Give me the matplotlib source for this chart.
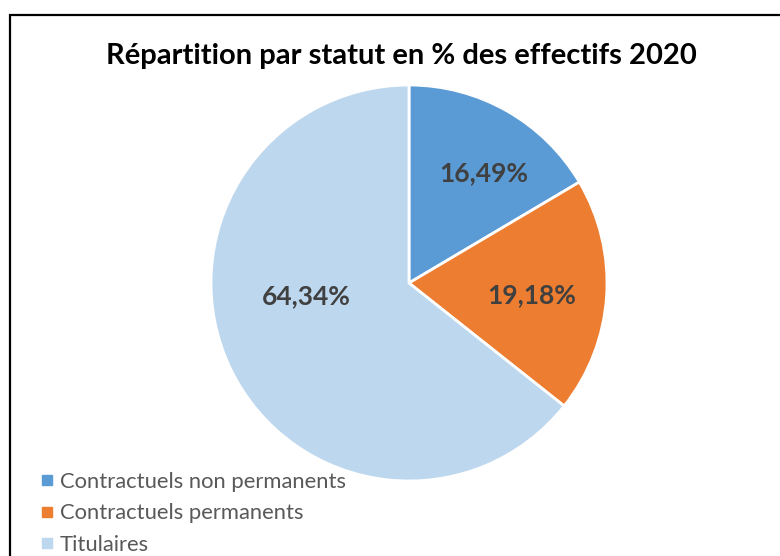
import matplotlib.pyplot as plt
from matplotlib.patches import Rectangle
from matplotlib.lines import Line2D

categories = ["Contractuels non permanents", "Contractuels permanents", "Titulaires"]
values = [16.49, 19.18, 64.34]
pct_labels = ["16,49%", "19,18%", "64,34%"]
colors = ["#5B9BD5", "#ED7D31", "#BDD7EE"]

plt.rcParams["font.family"] = ["Lato", "DejaVu Sans"]

W, H = 780, 556
fig = plt.figure(figsize=(W / 100, H / 100), dpi=100)

# cadre du graphique
fig.patches.append(Rectangle((9.5 / W, -0.1), 1.2, (H - 15) / H + 0.1,
                             transform=fig.transFigure, fill=False,
                             edgecolor="black", linewidth=1.6))

fig.text(401 / W, 1 - 56 / H, "Répartition par statut en % des effectifs 2020",
         ha="center", va="center", fontsize=21, fontweight="bold", color="black")

cx, cy, r = 409, 283, 198
ax = fig.add_axes([(cx - r) / W, (H - cy - r) / H, 2 * r / W, 2 * r / H])
ax.pie(values, colors=colors, startangle=90, counterclock=False, radius=1,
       wedgeprops=dict(edgecolor="white", linewidth=2))
ax.set_xlim(-1, 1)
ax.set_ylim(-1, 1)
ax.set_aspect("equal")
ax.axis("off")

# positions des étiquettes (en rayons)
label_pos = [(0.38, 0.555), (0.62, -0.06), (-0.52, -0.065)]
for (x, y), txt in zip(label_pos, pct_labels):
    ax.text(x, y, txt, ha="center", va="center", fontsize=19,
            fontweight="bold", color="#404040")

handles = [Line2D([], [], marker="s", linestyle="none", markersize=7,
                  markerfacecolor=c, markeredgecolor=c) for c in colors]
fig.legend(handles, categories, loc="upper left",
           bbox_to_anchor=(28 / W, 1 - 463 / H), frameon=False,
           fontsize=15.8, labelcolor="#595959", handletextpad=0.15,
           labelspacing=0.52, handlelength=0.9, borderaxespad=0)

fig.savefig("out.png", dpi=100)
